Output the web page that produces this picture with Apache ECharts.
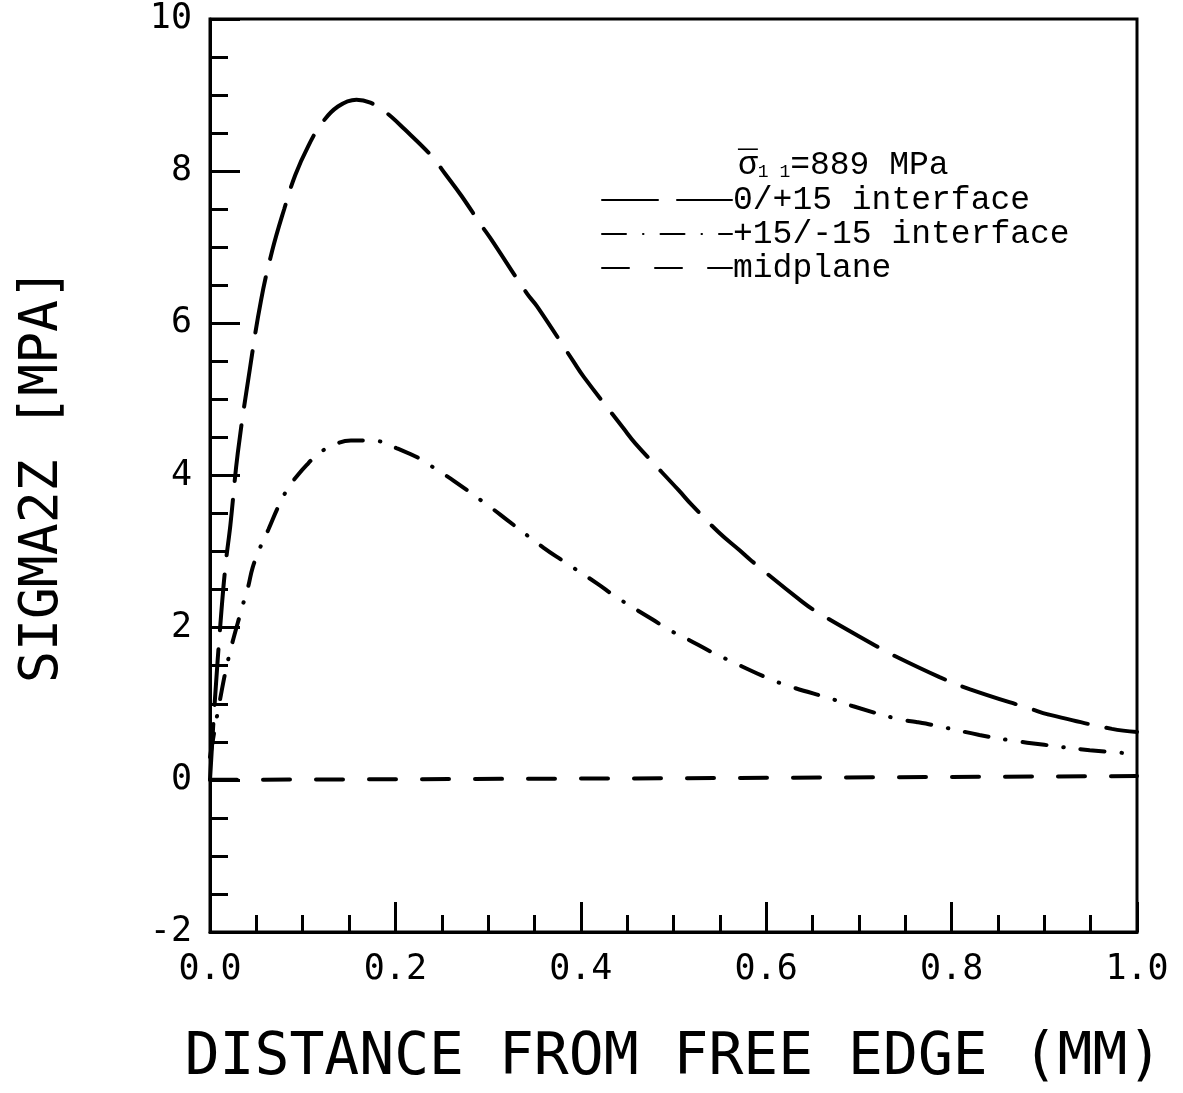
<!DOCTYPE html>
<html>
<head>
<meta charset="utf-8">
<script src="https://cdn.jsdelivr.net/npm/echarts@6/dist/echarts.min.js"></script>
<style>html,body{margin:0;padding:0;background:#fff}#c{width:1183px;height:1093px}</style>
</head>
<body>
<div id="c"></div>
<script>
// 0/+15 interface (long dash)
const interfaceA_x = [0, 0.005, 0.012, 0.017, 0.022, 0.030, 0.043, 0.055, 0.067, 0.080, 0.092, 0.106, 0.120, 0.138, 0.158, 0.173, 0.189, 0.210, 0.239, 0.254, 0.271, 0.292, 0.303, 0.342, 0.353, 0.392, 0.403, 0.446, 0.459, 0.506, 0.520, 0.549, 0.571, 0.584, 0.639, 0.657, 0.717, 0.735, 0.787, 0.820, 0.886, 0.904, 0.973, 1.0];
const interfaceA_y = [0, 1.0, 2.17, 2.85, 3.35, 4.3, 5.4, 6.3, 6.95, 7.5, 7.95, 8.33, 8.62, 8.85, 8.94, 8.9, 8.78, 8.55, 8.2, 7.96, 7.68, 7.30, 7.11, 6.39, 6.22, 5.50, 5.30, 4.62, 4.42, 3.80, 3.61, 3.25, 3.02, 2.88, 2.34, 2.19, 1.77, 1.65, 1.35, 1.19, 0.93, 0.86, 0.67, 0.63];
// +15/-15 interface (dash-dot)
const interfaceB_x = [0, 0.010, 0.020, 0.034, 0.041, 0.046, 0.054, 0.063, 0.074, 0.084, 0.095, 0.106, 0.115, 0.133, 0.152, 0.182, 0.201, 0.225, 0.244, 0.263, 0.304, 0.320, 0.360, 0.378, 0.419, 0.436, 0.477, 0.497, 0.515, 0.541, 0.560, 0.603, 0.625, 0.674, 0.693, 0.742, 0.762, 0.784, 0.830, 0.863, 0.900, 0.949, 1.0];
const interfaceB_y = [0.3, 1.0, 1.6, 2.24, 2.53, 2.79, 3.05, 3.29, 3.6, 3.83, 4.01, 4.16, 4.27, 4.40, 4.46, 4.45, 4.36, 4.23, 4.08, 3.93, 3.57, 3.42, 3.05, 2.90, 2.57, 2.42, 2.11, 1.96, 1.85, 1.68, 1.57, 1.33, 1.23, 1.05, 0.97, 0.80, 0.76, 0.71, 0.59, 0.52, 0.46, 0.39, 0.34];
// midplane (dashed)
const midplane_x = [0, 0.5, 1.0];
const midplane_y = [0, 0.02, 0.05];

const seriesNames = ['0/+15 interface', '+15/-15 interface', 'midplane'];
const xTickLabels = ['0.0', '0.2', '0.4', '0.6', '0.8', '1.0'];

const pairs = (xs, ys) => xs.map((x, i) => [x, ys[i]]);

const chart = echarts.init(document.getElementById('c'), null, {renderer: 'canvas'});
const monoAxis = 'DejaVu Sans Mono';
const legendFont = 'Liberation Mono';
chart.setOption({
  backgroundColor: '#fff',
  animation: false,
  color: ['#000', '#000', '#000'],
  title: {
    left: 733, top: 120,
    text: '{o|_}\n{s|σ}{sub|1 1}{t|=889 MPa}',
    textStyle: {
      fontWeight: 'normal',
      rich: {
        o: {fontFamily: legendFont, fontSize: 33, color: '#000', lineHeight: 24, fontWeight: 'normal'},
        s: {fontFamily: legendFont, fontSize: 33, color: '#000', lineHeight: 33, fontWeight: 'normal'},
        sub: {fontFamily: legendFont, fontSize: 18, color: '#000', fontWeight: 'normal', padding: [14, 0, 0, 0]},
        t: {fontFamily: legendFont, fontSize: 33, color: '#000', lineHeight: 33, fontWeight: 'normal'}
      }
    }
  },
  legend: {
    orient: 'vertical',
    left: 596, top: 178,
    itemWidth: 130, itemHeight: 14, itemGap: 0,
    data: seriesNames,
    itemStyle: {opacity: 0},
    textStyle: {fontFamily: legendFont, fontSize: 33, color: '#000', lineHeight: 34, padding: [0, 0, 0, -4]}
  },
  grid: {
    left: 210, right: 46, top: 19, bottom: 155,
    show: true, borderColor: '#000', borderWidth: 3, backgroundColor: 'transparent'
  },
  xAxis: {
    type: 'value', min: 0, max: 1, interval: 0.2,
    name: 'DISTANCE FROM FREE EDGE (MM)',
    nameLocation: 'middle', nameGap: 98,
    nameTextStyle: {fontFamily: monoAxis, fontSize: 58, color: '#000'},
    axisLine: {show: true, onZero: false, lineStyle: {color: '#000', width: 3}},
    axisTick: {show: true, inside: true, length: 30, lineStyle: {color: '#000', width: 3}},
    minorTick: {show: true, splitNumber: 4, length: 17, lineStyle: {color: '#000', width: 3}},
    splitLine: {show: false},
    axisLabel: {
      fontFamily: monoAxis, fontSize: 35, color: '#000', margin: 20,
      formatter: (v) => xTickLabels[Math.round(v / 0.2)]
    }
  },
  yAxis: {
    type: 'value', min: -2, max: 10, interval: 2,
    name: 'SIGMA2Z [MPA]',
    nameLocation: 'middle', nameGap: 140,
    nameTextStyle: {fontFamily: monoAxis, fontSize: 53, color: '#000'},
    axisLine: {show: true, onZero: false, lineStyle: {color: '#000', width: 3}},
    axisTick: {show: true, inside: true, length: 30, lineStyle: {color: '#000', width: 3}},
    minorTick: {show: true, splitNumber: 4, length: 18, lineStyle: {color: '#000', width: 3}},
    splitLine: {show: false},
    axisLabel: {fontFamily: monoAxis, fontSize: 35, color: '#000', margin: 18}
  },
  series: [
    {
      name: seriesNames[0], type: 'line', symbol: 'none', smooth: 0.4,
      itemStyle: {color: '#000'},
      data: pairs(interfaceA_x, interfaceA_y),
      lineStyle: {color: '#000', width: 4, type: [56, 19], cap: 'round'}
    },
    {
      name: seriesNames[1], type: 'line', symbol: 'none', smooth: 0.4,
      itemStyle: {color: '#000'},
      data: pairs(interfaceB_x, interfaceB_y),
      lineStyle: {color: '#000', width: 4, type: [24, 17, 0.5, 17], cap: 'round'}
    },
    {
      name: seriesNames[2], type: 'line', symbol: 'none',
      itemStyle: {color: '#000'},
      data: pairs(midplane_x, midplane_y),
      lineStyle: {color: '#000', width: 4, type: [27, 26], cap: 'round'}
    }
  ]
});
</script>
</body>
</html>
